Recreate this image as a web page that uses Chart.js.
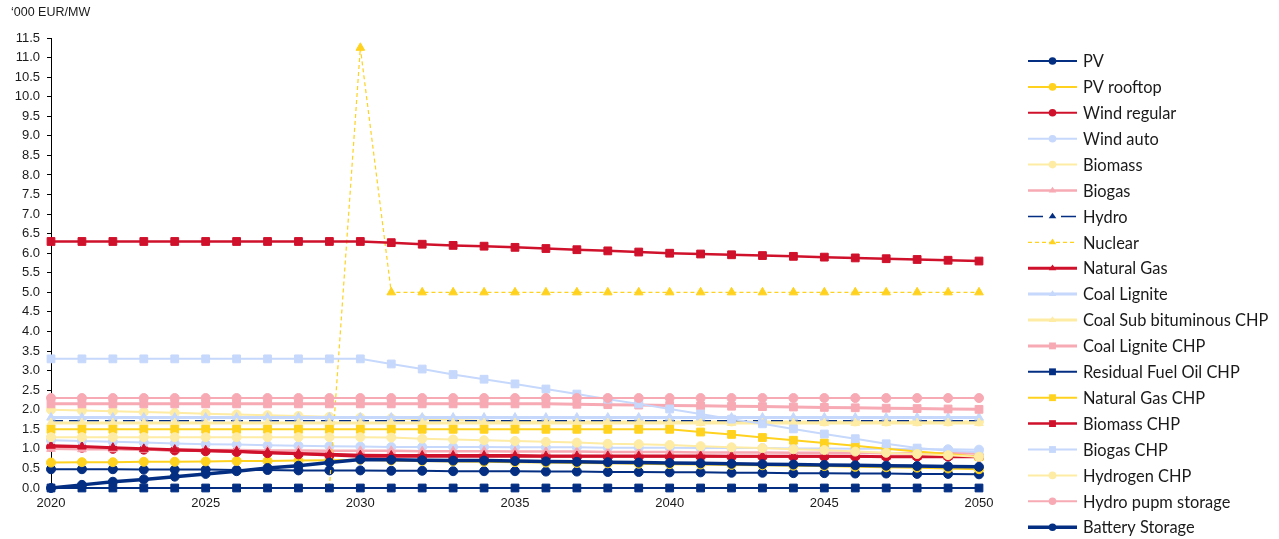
<!DOCTYPE html>
<html>
<head>
<meta charset="utf-8">
<script src="https://cdn.jsdelivr.net/npm/chart.js@4.4.1/dist/chart.umd.min.js"></script>
<style>
  html, body { margin: 0; padding: 0; background: #fff; }
  #wrap { width: 1279px; height: 539px; }
</style>
</head>
<body>
<div id="wrap"><canvas id="costChart"></canvas></div>
<script>
const years = ['2020','2021','2022','2023','2024','2025','2026','2027','2028','2029','2030',
  '2031','2032','2033','2034','2035','2036','2037','2038','2039','2040',
  '2041','2042','2043','2044','2045','2046','2047','2048','2049','2050'];

const yTicks = ['0.0','0.5','1.0','1.5','2.0','2.5','3.0','3.5','4.0','4.5','5.0','5.5',
  '6.0','6.5','7.0','7.5','8.0','8.5','9.0','9.5','10.0','10.5','11.0','11.5'];

const pv = [0.48,0.48,0.48,0.47,0.47,0.47,0.46,0.46,0.45,0.45,0.45,
  0.44,0.44,0.43,0.43,0.43,0.42,0.42,0.41,0.41,0.40,
  0.40,0.39,0.39,0.38,0.38,0.37,0.37,0.36,0.36,0.35];
const pvRooftop = [0.65,0.66,0.66,0.67,0.67,0.68,0.69,0.69,0.70,0.71,0.72,
  0.70,0.69,0.68,0.67,0.66,0.65,0.64,0.63,0.62,0.61,
  0.60,0.59,0.58,0.57,0.56,0.54,0.53,0.52,0.50,0.48];
const windRegular = [1.05,1.03,1.00,0.98,0.96,0.94,0.92,0.89,0.86,0.83,0.80,
  0.80,0.80,0.80,0.80,0.80,0.80,0.80,0.80,0.80,0.80,
  0.80,0.80,0.80,0.80,0.80,0.80,0.80,0.80,0.80,0.80];
const windAuto = [1.22,1.20,1.18,1.16,1.14,1.12,1.11,1.09,1.08,1.07,1.06,
  1.05,1.05,1.05,1.05,1.04,1.04,1.04,1.03,1.03,1.03,
  1.02,1.02,1.02,1.01,1.01,1.00,1.00,0.99,0.99,0.98];
const biomass = [2.00,1.98,1.96,1.94,1.92,1.90,1.88,1.86,1.84,1.82,1.80,
  1.78,1.76,1.74,1.72,1.70,1.70,1.70,1.70,1.70,1.70,
  1.70,1.70,1.70,1.70,1.70,1.70,1.70,1.70,1.70,1.70];
const biogas = [1.00,0.99,0.99,0.98,0.98,0.97,0.97,0.96,0.96,0.95,0.95,
  0.95,0.94,0.94,0.94,0.93,0.93,0.93,0.92,0.92,0.92,
  0.91,0.91,0.91,0.90,0.90,0.90,0.89,0.89,0.89,0.88];
const hydro = [1.72,1.72,1.72,1.72,1.72,1.72,1.72,1.72,1.72,1.72,1.72,
  1.72,1.72,1.72,1.72,1.72,1.72,1.72,1.72,1.72,1.72,
  1.72,1.72,1.72,1.72,1.72,1.72,1.72,1.72,1.72,1.72];
const nuclear = [null,null,null,null,null,null,null,null,null,0.00,11.25,
  5.00,5.00,5.00,5.00,5.00,5.00,5.00,5.00,5.00,5.00,
  5.00,5.00,5.00,5.00,5.00,5.00,5.00,5.00,5.00,5.00];
const naturalGas = [1.08,1.06,1.03,1.00,0.98,0.96,0.94,0.91,0.88,0.86,0.84,
  0.83,0.83,0.83,0.83,0.83,0.82,0.82,0.82,0.82,0.82,
  0.82,0.81,0.81,0.81,0.81,0.81,0.80,0.80,0.80,0.80];
const coalLignite = [1.80,1.80,1.80,1.80,1.80,1.80,1.80,1.80,1.80,1.80,1.80,
  1.80,1.80,1.80,1.80,1.80,1.80,1.80,1.80,1.80,1.80,
  1.80,1.80,1.80,1.80,1.80,1.80,1.80,1.80,1.80,1.80];
const coalSubBitCHP = [1.66,1.66,1.66,1.66,1.66,1.66,1.66,1.66,1.66,1.66,1.66,
  1.66,1.66,1.66,1.66,1.66,1.66,1.66,1.66,1.66,1.66,
  1.66,1.66,1.66,1.66,1.66,1.66,1.66,1.66,1.66,1.66];
const coalLigniteCHP = [2.15,2.15,2.15,2.15,2.15,2.15,2.15,2.15,2.15,2.15,2.15,
  2.15,2.15,2.15,2.15,2.15,2.15,2.14,2.13,2.12,2.11,
  2.10,2.09,2.08,2.07,2.06,2.05,2.04,2.03,2.02,2.01];
const residualOilCHP = [0,0,0,0,0,0,0,0,0,0,0,
  0,0,0,0,0,0,0,0,0,0,
  0,0,0,0,0,0,0,0,0,0];
const naturalGasCHP = [1.50,1.50,1.50,1.50,1.50,1.50,1.50,1.50,1.50,1.50,1.50,
  1.50,1.50,1.50,1.50,1.50,1.50,1.50,1.50,1.50,1.50,
  1.43,1.37,1.29,1.22,1.15,1.08,1.00,0.93,0.87,0.80];
const biomassCHP = [6.30,6.30,6.30,6.30,6.30,6.30,6.30,6.30,6.30,6.30,6.30,
  6.27,6.23,6.20,6.18,6.15,6.12,6.09,6.06,6.03,6.00,
  5.98,5.96,5.94,5.92,5.90,5.88,5.86,5.84,5.82,5.80];
const biogasCHP = [3.30,3.30,3.30,3.30,3.30,3.30,3.30,3.30,3.30,3.30,3.30,
  3.17,3.04,2.90,2.78,2.66,2.53,2.40,2.27,2.15,2.02,
  1.89,1.76,1.64,1.51,1.38,1.26,1.13,1.02,0.95,0.92];
const hydrogenCHP = [1.30,1.30,1.30,1.30,1.30,1.30,1.30,1.30,1.30,1.30,1.30,
  1.29,1.26,1.24,1.22,1.20,1.18,1.16,1.13,1.12,1.10,
  1.07,1.04,1.02,0.99,0.97,0.93,0.90,0.87,0.84,0.80];
const hydroPump = [2.30,2.30,2.30,2.30,2.30,2.30,2.30,2.30,2.30,2.30,2.30,
  2.30,2.30,2.30,2.30,2.30,2.30,2.30,2.30,2.30,2.30,
  2.30,2.30,2.30,2.30,2.30,2.30,2.30,2.30,2.30,2.30];
const battery = [0.00,0.08,0.16,0.22,0.29,0.36,0.43,0.51,0.57,0.65,0.73,
  0.72,0.71,0.70,0.70,0.69,0.68,0.67,0.66,0.65,0.64,
  0.63,0.62,0.61,0.60,0.59,0.58,0.57,0.56,0.55,0.54];

const NAVY = '#032e82';
const YELLOW = '#ffd21f';
const RED = '#d0112b';
const LBLUE = '#c6d8fc';
const LYELLOW = '#feeba4';
const PINK = '#f7aab4';

function series(label, data, color, style, width, extra) {
  return Object.assign({
    label: label,
    data: data,
    borderColor: color,
    backgroundColor: color,
    pointBackgroundColor: color,
    pointBorderColor: color,
    borderWidth: width,
    pointStyle: style,
    pointRadius: style === 'rect' ? 5.5 : (style === 'triangle' ? 5 : 4.5),
    pointBorderWidth: 1,
    fill: false,
    tension: 0,
    spanGaps: false,
    clip: false
  }, extra || {});
}

const datasets = [
  series('PV', pv, NAVY, 'circle', 2),
  series('PV rooftop', pvRooftop, YELLOW, 'circle', 2),
  series('Wind regular', windRegular, RED, 'circle', 2),
  series('Wind auto', windAuto, LBLUE, 'circle', 2),
  series('Biomass', biomass, LYELLOW, 'circle', 2),
  series('Biogas', biogas, PINK, 'triangle', 2.5),
  series('Hydro', hydro, NAVY, 'triangle', 1.5, { borderDash: [12, 6], pointRadius: 0, legendDash: [15, 18] }),
  series('Nuclear', nuclear, YELLOW, 'triangle', 1.2, { borderDash: [4, 3], pointRadius: 5, legendDash: [4, 3] }),
  series('Natural Gas', naturalGas, RED, 'triangle', 3),
  series('Coal Lignite', coalLignite, LBLUE, 'triangle', 3),
  series('Coal Sub bituminous CHP', coalSubBitCHP, LYELLOW, 'triangle', 3),
  series('Coal Lignite CHP', coalLigniteCHP, PINK, 'rect', 3),
  series('Residual Fuel Oil CHP', residualOilCHP, NAVY, 'rect', 2),
  series('Natural Gas CHP', naturalGasCHP, YELLOW, 'rect', 2),
  series('Biomass CHP', biomassCHP, RED, 'rect', 2.5),
  series('Biogas CHP', biogasCHP, LBLUE, 'rect', 2),
  series('Hydrogen CHP', hydrogenCHP, LYELLOW, 'circle', 2),
  series('Hydro pupm storage', hydroPump, PINK, 'circle', 2),
  series('Battery Storage', battery, NAVY, 'circle', 3.5)
];
// later series sit on top, like the original
datasets.forEach((ds, i) => { ds.order = datasets.length - i; });

function drawMarker(ctx, style, x, y, r) {
  ctx.beginPath();
  if (style === 'circle') {
    ctx.arc(x, y, r, 0, Math.PI * 2);
  } else if (style === 'rect') {
    const s = r * 0.9;
    ctx.rect(x - s, y - s, s * 2, s * 2);
  } else {
    const h = r * 1.5;
    ctx.moveTo(x, y - h * 0.66);
    ctx.lineTo(x + r, y + h * 0.34);
    ctx.lineTo(x - r, y + h * 0.34);
    ctx.closePath();
  }
  ctx.fill();
}

const legendAndTitle = {
  id: 'legendAndTitle',
  afterDraw(chart) {
    const ctx = chart.ctx;
    ctx.save();
    ctx.fillStyle = '#1a1a1a';
    ctx.font = '12.5px "Liberation Sans", Arial, sans-serif';
    ctx.textBaseline = 'middle';
    ctx.fillText('\u2018000 EUR/MW', 11, 13);

    chart.data.datasets.forEach((ds, i) => {
      const y = 61 + i * 25.9;
      ctx.strokeStyle = ds.borderColor;
      ctx.lineWidth = ds.borderWidth;
      ctx.setLineDash(ds.legendDash || []);
      ctx.beginPath();
      ctx.moveTo(1028, y);
      ctx.lineTo(1077, y);
      ctx.stroke();
      ctx.setLineDash([]);
      ctx.fillStyle = ds.borderColor;
      drawMarker(ctx, ds.pointStyle, 1052.5, y, 3.8);
      ctx.fillStyle = '#1a1a1a';
      ctx.font = '16.4px Lato, "Liberation Sans", sans-serif';
      ctx.fillText(ds.label, 1083, y + 1);
    });
    ctx.restore();
  }
};

new Chart(document.getElementById('costChart').getContext('2d'), {
  type: 'line',
  data: { labels: years, datasets: datasets },
  options: {
    responsive: true,
    maintainAspectRatio: false,
    animation: false,
    devicePixelRatio: 1,
    layout: { padding: { top: 38, right: 300, bottom: 0, left: 0 } },
    plugins: { legend: { display: false }, tooltip: { enabled: false } },
    scales: {
      x: {
        type: 'category',
        offset: false,
        afterFit(s) { s.height = 51; },
        grid: { display: false, drawTicks: false },
        border: { display: true, color: '#000', width: 1 },
        ticks: {
          autoSkip: false,
          maxRotation: 0,
          padding: 8,
          color: '#1a1a1a',
          font: { family: '"Liberation Sans", Arial, sans-serif', size: 13 },
          callback: (v, i) => (i % 5 === 0 ? years[i] : '')
        }
      },
      y: {
        min: 0,
        max: 11.5,
        afterFit(s) { s.width = 51; },
        afterBuildTicks(s) { s.ticks = yTicks.map(t => ({ value: parseFloat(t) })); },
        grid: { display: true, drawOnChartArea: false, drawTicks: true, tickLength: 4, color: '#000' },
        border: { display: true, color: '#000', width: 1 },
        ticks: {
          padding: 7,
          color: '#1a1a1a',
          font: { family: '"Liberation Sans", Arial, sans-serif', size: 13 },
          callback: (v, i) => yTicks[i]
        }
      }
    }
  },
  plugins: [legendAndTitle]
});
</script>
</body>
</html>
